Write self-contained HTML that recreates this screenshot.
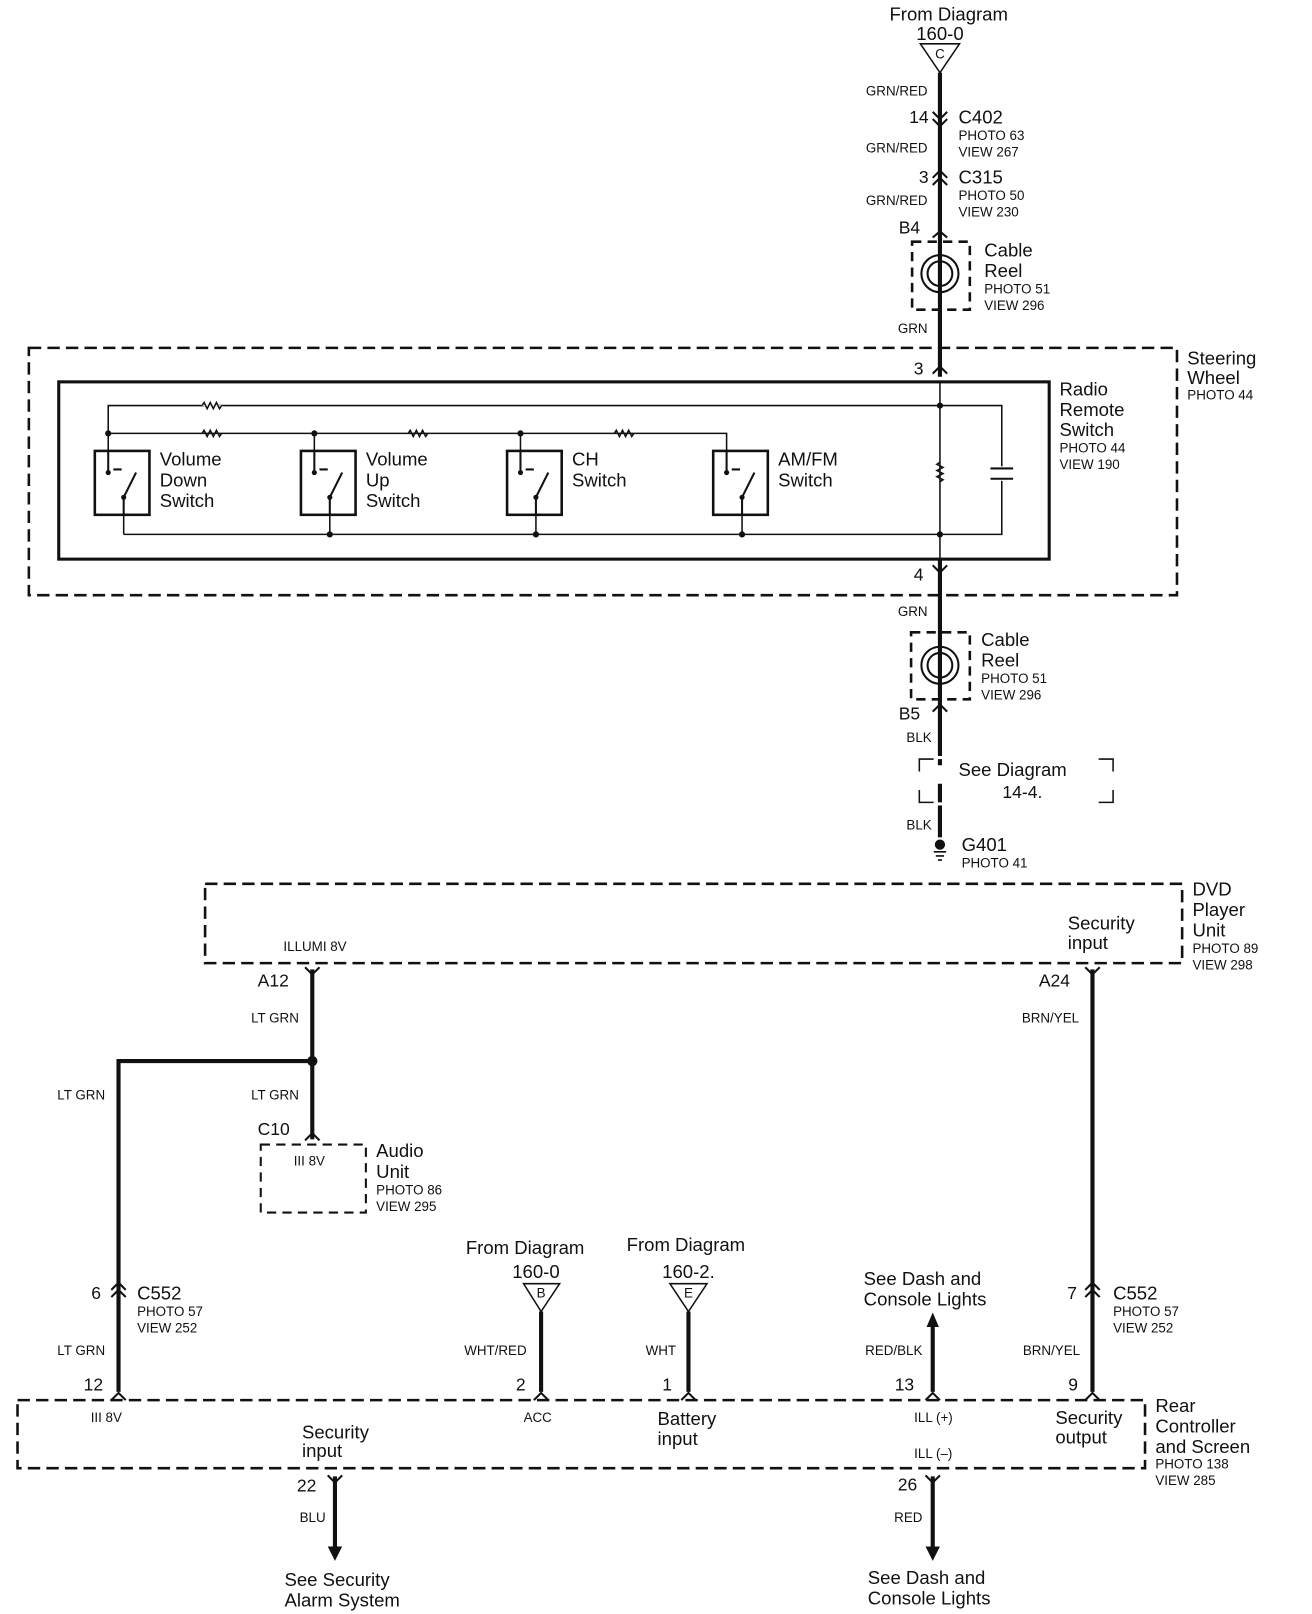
<!DOCTYPE html>
<html><head><meta charset="utf-8"><style>
html,body{margin:0;padding:0;background:#fff;}
svg{display:block;}
text{font-family:"Liberation Sans",sans-serif;fill:#111;dominant-baseline:central;}
.b{font-size:18px;}
.s{font-size:13px;}
.w{font-size:13px;}
.n{font-size:17px;}
</style></head><body>
<svg width="1312" height="1614" viewBox="0 0 1273 1565" xmlns="http://www.w3.org/2000/svg">
<g stroke="#111" fill="none">
<!-- main vertical wire top -->
<line x1="912" y1="70" x2="912" y2="365" stroke-width="4"/>
<polygon points="893,42 931,42 912,70" stroke-width="1.5"/>
<!-- connectors C402 / C315 -->
<path d="M905,108 L912,115 L919,108 M905,115 L912,122 L919,115" stroke-width="2"/>
<path d="M905,172 L912,165 L919,172 M905,179 L912,172 L919,179" stroke-width="2"/>
<path d="M905,230 L912,224 L919,230" stroke-width="2"/>
<!-- cable reel 1 -->
<rect x="885" y="234" width="56" height="66" stroke-width="2.5" stroke-dasharray="9,6"/>
<circle cx="912" cy="265" r="18" stroke-width="2"/>
<circle cx="912" cy="265" r="12" stroke-width="2"/>
<!-- steering wheel box -->
<rect x="28" y="337" width="1114" height="240" stroke-width="2.5" stroke-dasharray="12,6"/>
<path d="M905,362 L912,355 L919,362" stroke-width="2"/>
<rect x="57" y="370" width="961" height="172" stroke-width="3"/>
<!-- inner circuitry -->
<path d="M105,437 L105,393 L972,393 L972,518 L120,518" stroke-width="1.5"/>
<path d="M105,420 L705,420 L705,437" stroke-width="1.5"/>
<path d="M305,420 L305,437 M505,420 L505,437" stroke-width="1.5"/>
<path d="M120,499 L120,518 M320,499 L320,518 M520,499 L520,518 M720,499 L720,518" stroke-width="1.5"/>
<line x1="912" y1="370" x2="912" y2="542" stroke-width="1.5"/>
<!-- resistors -->
<g stroke-width="1.5">
<path d="M196,393 l2,-3 l3,6 l3,-6 l3,6 l3,-6 l3,6 l2,-3" stroke="#fff" stroke-width="3"/>
<path d="M196,393 l2,-3 l3,6 l3,-6 l3,6 l3,-6 l3,6 l2,-3"/>
<path d="M196,420 l2,-3 l3,6 l3,-6 l3,6 l3,-6 l3,6 l2,-3"/>
<path d="M396,420 l2,-3 l3,6 l3,-6 l3,6 l3,-6 l3,6 l2,-3"/>
<path d="M596,420 l2,-3 l3,6 l3,-6 l3,6 l3,-6 l3,6 l2,-3"/>
<path d="M912,448 l-3,2 l6,3 l-6,3 l6,3 l-6,3 l6,3 l-3,2" stroke-width="1.5"/>
</g>
<!-- capacitor -->
<rect x="960" y="452" width="24" height="14" fill="#fff" stroke="none"/>
<path d="M961,454 L983,454 M961,464 L983,464" stroke-width="2"/>
<!-- switches -->
<g stroke-width="2.5">
<rect x="92" y="437" width="53" height="62"/>
<rect x="292" y="437" width="53" height="62"/>
<rect x="492" y="437" width="53" height="62"/>
<rect x="692" y="437" width="53" height="62"/>
</g>
<g stroke-width="2">
<path d="M105,437 L105,458 M120,499 L120,482 L132,458 M110,455 l8,0"/>
<path d="M305,437 L305,458 M320,499 L320,482 L332,458 M310,455 l8,0"/>
<path d="M505,437 L505,458 M520,499 L520,482 L532,458 M510,455 l8,0"/>
<path d="M705,437 L705,458 M720,499 L720,482 L732,458 M710,455 l8,0"/>
</g>
<g fill="#111" stroke="none">
<circle cx="105" cy="420" r="3"/><circle cx="305" cy="420" r="3"/><circle cx="505" cy="420" r="3"/>
<circle cx="320" cy="518" r="3"/><circle cx="520" cy="518" r="3"/><circle cx="720" cy="518" r="3"/>
<circle cx="912" cy="393" r="3"/><circle cx="912" cy="518" r="3"/>
<circle cx="105" cy="458" r="2.5"/><circle cx="305" cy="458" r="2.5"/><circle cx="505" cy="458" r="2.5"/><circle cx="705" cy="458" r="2.5"/>
<circle cx="120" cy="482" r="2.5"/><circle cx="320" cy="482" r="2.5"/><circle cx="520" cy="482" r="2.5"/><circle cx="720" cy="482" r="2.5"/>
</g>
<!-- lower main wire -->
<line x1="912" y1="542" x2="912" y2="812" stroke-width="4"/>
<path d="M905,548 L912,555 L919,548" stroke-width="2"/>
<rect x="884" y="613" width="57" height="65" stroke-width="2.5" stroke-dasharray="9,6"/>
<circle cx="912" cy="645" r="18" stroke-width="2"/>
<circle cx="912" cy="645" r="12" stroke-width="2"/>
<path d="M905,690 L912,683 L919,690" stroke-width="2"/>
<path d="M892,748 L892,736 L906,736 M1066,736 L1080,736 L1080,748 M892,766 L892,778 L906,778 M1066,778 L1080,778 L1080,766" stroke-width="1.5"/>
<rect x="906" y="733" width="12" height="48" fill="#fff" stroke="none"/>
<path d="M912,736 L912,742 M912,760 L912,778" stroke-width="4"/>
<path d="M906,826 L918,826 M908,830 L916,830 M910,834 L914,834" stroke-width="1.5"/>
<circle cx="912" cy="819" r="5" fill="#111" stroke="none"/>
<!-- DVD box -->
<rect x="199" y="857" width="948" height="77" stroke-width="2.5" stroke-dasharray="12,6"/>
<line x1="303" y1="940" x2="303" y2="1105" stroke-width="4"/>
<path d="M296,938 L303,945 L310,938" stroke-width="2"/>
<line x1="1060" y1="940" x2="1060" y2="1350" stroke-width="4"/>
<path d="M1053,938 L1060,945 L1067,938" stroke-width="2"/>
<path d="M303,1029 L115,1029 L115,1350" stroke-width="4"/>
<circle cx="303" cy="1029" r="5" fill="#111" stroke="none"/>
<path d="M296,1106 L303,1099 L310,1106" stroke-width="2"/>
<rect x="253" y="1110" width="102" height="66" stroke-width="2" stroke-dasharray="9,6"/>
<!-- C552 connectors -->
<path d="M108,1251 L115,1244 L122,1251 M108,1258 L115,1251 L122,1258" stroke-width="2"/>
<path d="M1053,1251 L1060,1244 L1067,1251 M1053,1258 L1060,1251 L1067,1258" stroke-width="2"/>
<!-- from diagrams -->
<polygon points="508,1245 543,1245 525,1272" stroke-width="1.5"/>
<line x1="525" y1="1272" x2="525" y2="1350" stroke-width="4"/>
<polygon points="650,1245 686,1245 668,1272" stroke-width="1.5"/>
<line x1="668" y1="1272" x2="668" y2="1350" stroke-width="4"/>
<line x1="905" y1="1285" x2="905" y2="1350" stroke-width="4"/>
<polygon points="899,1287 911,1287 905,1273" fill="#111" stroke="none"/>
<!-- bottom connectors -->
<path d="M108,1358 L115,1351 L122,1358 M518,1358 L525,1351 L532,1358 M661,1358 L668,1351 L675,1358 M898,1358 L905,1351 L912,1358 M1053,1358 L1060,1351 L1067,1358" stroke-width="2"/>
<rect x="17" y="1358" width="1094" height="66" stroke-width="2.5" stroke-dasharray="12,6"/>
<path d="M318,1431 L325,1438 L332,1431 M898,1431 L905,1438 L912,1431" stroke-width="2"/>
<line x1="325" y1="1432" x2="325" y2="1500" stroke-width="4"/>
<line x1="905" y1="1432" x2="905" y2="1500" stroke-width="4"/>
<polygon points="318,1500 332,1500 325,1514" fill="#111" stroke="none"/>
<polygon points="898,1500 912,1500 905,1514" fill="#111" stroke="none"/>
</g>
<!-- TEXT -->
<text x="863" y="13" class="b" font-size="20">From Diagram</text>
<text x="912" y="32" class="b" text-anchor="middle">160-0</text>
<text x="912" y="52" class="s" text-anchor="middle">C</text>
<text x="900" y="88" class="w" text-anchor="end">GRN/RED</text>
<text x="901" y="113" class="n" text-anchor="end">14</text>
<text x="930" y="113" class="b">C402</text>
<text x="930" y="131" class="s">PHOTO 63</text>
<text x="930" y="147" class="s">VIEW 267</text>
<text x="900" y="143" class="w" text-anchor="end">GRN/RED</text>
<text x="901" y="171" class="n" text-anchor="end">3</text>
<text x="930" y="171" class="b">C315</text>
<text x="930" y="189" class="s">PHOTO 50</text>
<text x="930" y="205" class="s">VIEW 230</text>
<text x="900" y="194" class="w" text-anchor="end">GRN/RED</text>
<text x="872" y="220" class="n">B4</text>
<text x="955" y="242" class="b">Cable</text>
<text x="955" y="262" class="b">Reel</text>
<text x="955" y="280" class="s">PHOTO 51</text>
<text x="955" y="296" class="s">VIEW 296</text>
<text x="900" y="318" class="w" text-anchor="end">GRN</text>
<text x="1152" y="347" class="b">Steering</text>
<text x="1152" y="366" class="b">Wheel</text>
<text x="1152" y="383" class="s">PHOTO 44</text>
<text x="896" y="357" class="n" text-anchor="end">3</text>
<text x="1028" y="377" class="b">Radio</text>
<text x="1028" y="397" class="b">Remote</text>
<text x="1028" y="416" class="b">Switch</text>
<text x="1028" y="434" class="s">PHOTO 44</text>
<text x="1028" y="450" class="s">VIEW 190</text>
<text x="155" y="445" class="b">Volume</text><text x="155" y="465" class="b">Down</text><text x="155" y="485" class="b">Switch</text>
<text x="355" y="445" class="b">Volume</text><text x="355" y="465" class="b">Up</text><text x="355" y="485" class="b">Switch</text>
<text x="555" y="445" class="b">CH</text><text x="555" y="465" class="b">Switch</text>
<text x="755" y="445" class="b">AM/FM</text><text x="755" y="465" class="b">Switch</text>
<text x="896" y="557" class="n" text-anchor="end">4</text>
<text x="900" y="593" class="w" text-anchor="end">GRN</text>
<text x="952" y="620" class="b">Cable</text>
<text x="952" y="640" class="b">Reel</text>
<text x="952" y="658" class="s">PHOTO 51</text>
<text x="952" y="674" class="s">VIEW 296</text>
<text x="872" y="692" class="n">B5</text>
<text x="904" y="715" class="w" text-anchor="end">BLK</text>
<text x="930" y="746" class="b" font-size="20">See Diagram</text>
<text x="992" y="768" class="n" text-anchor="middle">14-4.</text>
<text x="904" y="800" class="w" text-anchor="end">BLK</text>
<text x="933" y="819" class="b">G401</text>
<text x="933" y="837" class="s">PHOTO 41</text>
<text x="1157" y="862" class="b">DVD</text>
<text x="1157" y="882" class="b">Player</text>
<text x="1157" y="902" class="b">Unit</text>
<text x="1157" y="920" class="s">PHOTO 89</text>
<text x="1157" y="936" class="s">VIEW 298</text>
<text x="275" y="918" class="w">ILLUMI 8V</text>
<text x="1036" y="895" class="b">Security</text>
<text x="1036" y="914" class="b">input</text>
<text x="250" y="951" class="n">A12</text>
<text x="1008" y="951" class="n">A24</text>
<text x="290" y="987" class="w" text-anchor="end">LT GRN</text>
<text x="1047" y="987" class="w" text-anchor="end">BRN/YEL</text>
<text x="102" y="1062" class="w" text-anchor="end">LT GRN</text>
<text x="290" y="1062" class="w" text-anchor="end">LT GRN</text>
<text x="250" y="1095" class="n">C10</text>
<text x="285" y="1126" class="s">III 8V</text>
<text x="365" y="1116" class="b">Audio</text>
<text x="365" y="1136" class="b">Unit</text>
<text x="365" y="1154" class="s">PHOTO 86</text>
<text x="365" y="1170" class="s">VIEW 295</text>
<text x="98" y="1254" class="n" text-anchor="end">6</text>
<text x="133" y="1254" class="b">C552</text>
<text x="133" y="1272" class="s">PHOTO 57</text>
<text x="133" y="1288" class="s">VIEW 252</text>
<text x="1045" y="1254" class="n" text-anchor="end">7</text>
<text x="1080" y="1254" class="b">C552</text>
<text x="1080" y="1272" class="s">PHOTO 57</text>
<text x="1080" y="1288" class="s">VIEW 252</text>
<text x="452" y="1210" class="b" font-size="20">From Diagram</text>
<text x="520" y="1233" class="b" text-anchor="middle">160-0</text>
<text x="525" y="1254" class="s" text-anchor="middle">B</text>
<text x="608" y="1207" class="b" font-size="20">From Diagram</text>
<text x="668" y="1233" class="b" text-anchor="middle">160-2.</text>
<text x="668" y="1254" class="s" text-anchor="middle">E</text>
<text x="838" y="1240" class="b">See Dash and</text>
<text x="838" y="1260" class="b">Console Lights</text>
<text x="102" y="1310" class="w" text-anchor="end">LT GRN</text>
<text x="511" y="1310" class="w" text-anchor="end">WHT/RED</text>
<text x="656" y="1310" class="w" text-anchor="end">WHT</text>
<text x="895" y="1310" class="w" text-anchor="end">RED/BLK</text>
<text x="1048" y="1310" class="w" text-anchor="end">BRN/YEL</text>
<text x="100" y="1343" class="n" text-anchor="end">12</text>
<text x="510" y="1343" class="n" text-anchor="end">2</text>
<text x="652" y="1343" class="n" text-anchor="end">1</text>
<text x="887" y="1343" class="n" text-anchor="end">13</text>
<text x="1046" y="1343" class="n" text-anchor="end">9</text>
<text x="1121" y="1363" class="b">Rear</text>
<text x="1121" y="1383" class="b">Controller</text>
<text x="1121" y="1403" class="b">and Screen</text>
<text x="1121" y="1420" class="s">PHOTO 138</text>
<text x="1121" y="1436" class="s">VIEW 285</text>
<text x="88" y="1375" class="s">III 8V</text>
<text x="293" y="1389" class="b">Security</text>
<text x="293" y="1407" class="b">input</text>
<text x="508" y="1375" class="s">ACC</text>
<text x="638" y="1376" class="b">Battery</text>
<text x="638" y="1395" class="b">input</text>
<text x="887" y="1375" class="s">ILL (+)</text>
<text x="887" y="1410" class="s">ILL (–)</text>
<text x="1024" y="1375" class="b">Security</text>
<text x="1024" y="1394" class="b">output</text>
<text x="307" y="1441" class="n" text-anchor="end">22</text>
<text x="890" y="1440" class="n" text-anchor="end">26</text>
<text x="316" y="1472" class="w" text-anchor="end">BLU</text>
<text x="895" y="1472" class="w" text-anchor="end">RED</text>
<text x="276" y="1532" class="b">See Security</text>
<text x="276" y="1552" class="b">Alarm System</text>
<text x="842" y="1530" class="b">See Dash and</text>
<text x="842" y="1550" class="b">Console Lights</text>
</svg>
</body></html>
